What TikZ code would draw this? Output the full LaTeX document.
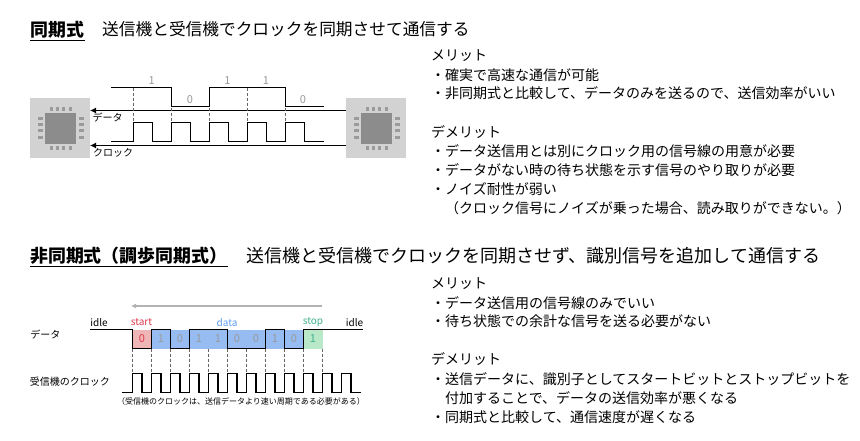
\documentclass[tikz,border=0pt]{standalone}
\usepackage{fontspec}
\setmainfont{Noto Sans CJK JP}
\usetikzlibrary{arrows.meta}
\definecolor{chipbg}{HTML}{D2D2D2}
\definecolor{chipbody}{HTML}{8C8C8C}
\definecolor{chippin}{HTML}{9A9A9A}
\definecolor{startfill}{HTML}{EFB6B8}
\definecolor{datafill}{HTML}{96BCF2}
\definecolor{stopfill}{HTML}{B8E8C8}
\definecolor{startcol}{HTML}{E0384C}
\definecolor{datacol}{HTML}{5B9BF0}
\definecolor{stopcol}{HTML}{3FB08F}
\tikzset{
	jp/.style={inner sep=0pt,anchor=west,yshift=-0.7pt,font=\fontsize{14}{14}\selectfont},
	head/.style={inner sep=0pt,anchor=west,font=\fontsize{18}{18}\selectfont},
	headb/.style={inner sep=0pt,anchor=west,font=\fontsize{17.9}{18}\selectfont\bfseries},
	small/.style={inner sep=0pt,font=\fontsize{10}{10}\selectfont},
	bit/.style={inner sep=0pt,text=black!40,font=\fontsize{11}{11}\selectfont},
	wave/.style={line width=1.2pt,line join=miter},
	guide/.style={densely dashed,line width=0.5pt,black!60},
	link/.style={line width=1.2pt,-{Latex[length=6pt,width=6pt]}},
}
\newcommand{\chipic}[3]{% name, left, top
	\node[fill=chipbg,minimum size=60pt,inner sep=0pt,anchor=north west] (#1) at (#2,#3) {};
	\fill[chipbody] (#2+15,#3+15.5) rectangle (#2+46,#3+46.5);
	\foreach \d in {21,27,33,40} {
		\fill[chippin] (#2+\d-1.5,#3+9.5) rectangle (#2+\d+1.5,#3+13);
		\fill[chippin] (#2+\d-1.5,#3+48.5) rectangle (#2+\d+1.5,#3+52.5);
		\fill[chippin] (#2+7.5,#3+\d-1.5) rectangle (#2+12.5,#3+\d+1.5);
		\fill[chippin] (#2+48.5,#3+\d-1.5) rectangle (#2+53.5,#3+\d+1.5);
	}
}
\begin{document}
\begin{tikzpicture}[x=1pt,y=-1pt]
	\useasboundingbox[fill=white] (0,0) rectangle (860,440);

	% 同期式
	\node[headb] (synctitle) at (30,30) {同期式};
	\draw[line width=1pt] (30,40.5) -- (85,40.5);
	\node[head,font=\fontsize{16.7}{17}\selectfont] (syncdesc) at (102,29) {送信機と受信機でクロックを同期させて通信する};

	\chipic{chipl}{30}{97.7}
	\chipic{chipr}{346}{97.7}

	\coordinate (datafrom) at (346,110.5);
	\coordinate (datato) at (90,110.5);
	\coordinate (clockfrom) at (346,145.5);
	\coordinate (clockto) at (90,145.5);
	\draw[link] (datafrom) -- (datato);
	\draw[link] (clockfrom) -- (clockto);

	\foreach \x in {133.7,171.7,209.5,247.5,285.7}
		\draw[guide] (\x,87.5) -- (\x,122.5);

	\draw[wave] (111,87.5) -- (171.7,87.5) -- (171.7,106.5) -- (209.5,106.5) -- (209.5,87.5)
		-- (285.7,87.5) -- (285.7,106.5) -- (324,106.5);
	\draw[wave] (111,141.2) -- (133.7,141.2)
		\foreach \x in {133.7,171.7,209.5,247.5,285.7} {
			-- (\x,141.2) -- (\x,122.5) -- (\x+19,122.5) -- (\x+19,141.2)
		} -- (324,141.2);

	\node[bit] (bita) at (151.7,81) {1};
	\node[bit] (bitb) at (190,100) {0};
	\node[bit] (bitc) at (227.5,81) {1};
	\node[bit] (bitd) at (266,81) {1};
	\node[bit] (bite) at (303,100) {0};
	\node[small] (datalabel) at (107.5,117.5) {データ};
	\node[small] (clocklabel) at (113,153) {クロック};

	\node[jp] (merita) at (431,55) {メリット};
	\node[jp] (meritb) at (431,74) {・確実で高速な通信が可能};
	\node[jp] (meritc) at (431,92.5) {・非同期式と比較して、データのみを送るので、送信効率がいい};
	\node[jp] (demerita) at (431,131) {デメリット};
	\node[jp] (demeritb) at (431,150) {・データ送信用とは別にクロック用の信号線の用意が必要};
	\node[jp] (demeritc) at (431,169) {・データがない時の待ち状態を示す信号のやり取りが必要};
	\node[jp] (demeritd) at (431,188) {・ノイズ耐性が弱い};
	\node[jp] (demerite) at (445,207) {（クロック信号にノイズが乗った場合、読み取りができない。）};

	% 非同期式
	\node[headb] (asynctitle) at (30,256) {非同期式（調歩同期式）};
	\draw[line width=1pt] (30,266) -- (228,266);
	\node[head] (asyncdesc) at (246,256) {送信機と受信機でクロックを同期させず、識別信号を追加して通信する};

	\coordinate (dirfrom) at (322,306);
	\coordinate (dirto) at (131,306);
	\draw[line width=1.2pt,black!30,-{Latex[length=5pt,width=5pt]}] (dirfrom) -- (dirto);

	\fill[startfill] (132.5,329.5) rectangle (151.5,348.5);
	\fill[datafill] (151.5,329.5) rectangle (303.5,348.5);
	\fill[stopfill] (303.5,329.5) rectangle (322.5,348.5);

	\foreach \x in {132.5,151.5,...,323}
		\draw[guide] (\x,348.5) -- (\x,373.5);

	\draw[wave] (90,329.5) -- (132.5,329.5) -- (132.5,348.5) -- (151.5,348.5) -- (151.5,329.5)
		-- (170.5,329.5) -- (170.5,348.5) -- (189.5,348.5) -- (189.5,329.5)
		-- (227.5,329.5) -- (227.5,348.5) -- (265.5,348.5) -- (265.5,329.5)
		-- (284.5,329.5) -- (284.5,348.5) -- (303.5,348.5) -- (303.5,329.5) -- (363,329.5);

	\draw[wave] (121.7,392.5) -- (132.5,392.5)
		\foreach \x in {132.5,151.5,...,342} {
			-- (\x,392.5) -- (\x,373.5) -- (\x+9.5,373.5) -- (\x+9.5,392.5)
		} -- (360.7,392.5);

	\node[bit,text=startcol] (bitstart) at (142,339) {0};
	\node[bit] (bitn) at (161,339) {1};
	\node[bit] (bito) at (180,339) {0};
	\node[bit] (bitp) at (199,339) {1};
	\node[bit] (bitq) at (218,339) {1};
	\node[bit] (bitr) at (237,339) {0};
	\node[bit] (bits) at (256,339) {0};
	\node[bit] (bitt) at (275,339) {1};
	\node[bit] (bitu) at (294,339) {0};
	\node[bit,text=stopcol] (bitstop) at (313,339) {1};

	\node[small] (idlel) at (99,322.5) {idle};
	\node[small,text=startcol] (startlabel) at (141.5,322.5) {start};
	\node[small,text=datacol] (datamid) at (227,322.5) {data};
	\node[small,text=stopcol] (stoplabel) at (313,322.5) {stop};
	\node[small] (idler) at (354.5,322.5) {idle};
	\node[small] (asyncdata) at (45.5,335) {データ};
	\node[small] (asyncclock) at (70,382) {受信機のクロック};
	\node[small,font=\fontsize{8}{8}\selectfont] (asyncnote) at (241,401) {（受信機のクロックは、送信データより速い周期である必要がある）};

	\node[jp] (amerita) at (431,283) {メリット};
	\node[jp] (ameritb) at (431,302) {・データ送信用の信号線のみでいい};
	\node[jp] (ameritc) at (431,320.5) {・待ち状態での余計な信号を送る必要がない};
	\node[jp] (ademerita) at (431,358.5) {デメリット};
	\node[jp] (ademeritb) at (431,378) {・送信データに、識別子としてスタートビットとストップビットを};
	\node[jp] (ademeritc) at (445,397) {付加することで、データの送信効率が悪くなる};
	\node[jp] (ademeritd) at (431,416) {・同期式と比較して、通信速度が遅くなる};
\end{tikzpicture}
\end{document}
